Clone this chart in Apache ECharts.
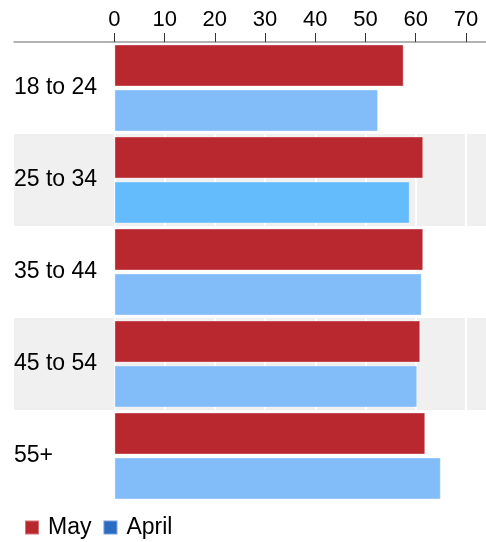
<!DOCTYPE html>
<html><head><meta charset="utf-8">
<script src="https://cdn.jsdelivr.net/npm/echarts@6/dist/echarts.min.js"></script>
<style>html,body{margin:0;padding:0;background:#fff}#c{width:486px;height:542px}</style>
</head><body><div id="c"></div>
<script>
var categories = ['18 to 24', '25 to 34', '35 to 44', '45 to 54', '55+'];
var mayValues = [57.6, 61.5, 61.5, 60.9, 61.9];
var aprilValues = [52.5, 58.8, 61.2, 60.3, 65.0];
var tickValues = [0, 10, 20, 30, 40, 50, 60, 70];

var FONT = 'Liberation Sans, Arial, sans-serif';
var chart = echarts.init(document.getElementById('c'), null, {renderer: 'canvas'});
chart.setOption({
  animation: false,
  grid: {left: 14, right: 0, top: 42, bottom: 40, containLabel: false},
  legend: {
    left: 24, top: 516, padding: 0, icon: 'rect', itemWidth: 14, itemHeight: 14, itemGap: 11,
    textStyle: {fontSize: 23, color: '#000', fontFamily: FONT, padding: [0, 0, 0, 4]},
    data: [{name: 'May', itemStyle: {color: '#b9282f'}}, {name: 'April', itemStyle: {color: '#2a6bc4'}}]
  },
  xAxis: {
    type: 'value', position: 'top', min: -20, max: 74, interval: 10,
    axisLine: {show: true, lineStyle: {color: '#999', width: 1.5}},
    axisTick: {show: true, customValues: tickValues, length: 9, lineStyle: {color: '#333', width: 1}},
    axisLabel: {customValues: tickValues, fontSize: 22, color: '#000', fontFamily: FONT, margin: 11},
    splitLine: {show: true, lineStyle: {color: '#ffffff', width: 2}}
  },
  yAxis: {
    type: 'category', data: categories, inverse: true,
    axisLine: {show: false}, axisTick: {show: false},
    axisLabel: {inside: true, margin: 0, fontSize: 23, color: '#000', fontFamily: FONT, padding: [6, 0, 0, 0]},
    splitArea: {show: true, areaStyle: {color: ['rgba(255,255,255,0)', '#f0f0f0']}}
  },
  series: [
    {
      name: 'May', type: 'bar', barWidth: 42, barGap: '7%',
      itemStyle: {color: '#b9282f', borderColor: 'rgba(255,255,255,0.35)', borderWidth: 1},
      data: mayValues
    },
    {
      name: 'April', type: 'bar', barWidth: 42, barGap: '7%',
      itemStyle: {color: '#82bdf9', borderColor: 'rgba(255,255,255,0.35)', borderWidth: 1},
      data: aprilValues.map(function (v, i) {
        return i === 1 ? {value: v, itemStyle: {color: '#64bcfc'}} : v;
      })
    }
  ]
});
</script></body></html>
